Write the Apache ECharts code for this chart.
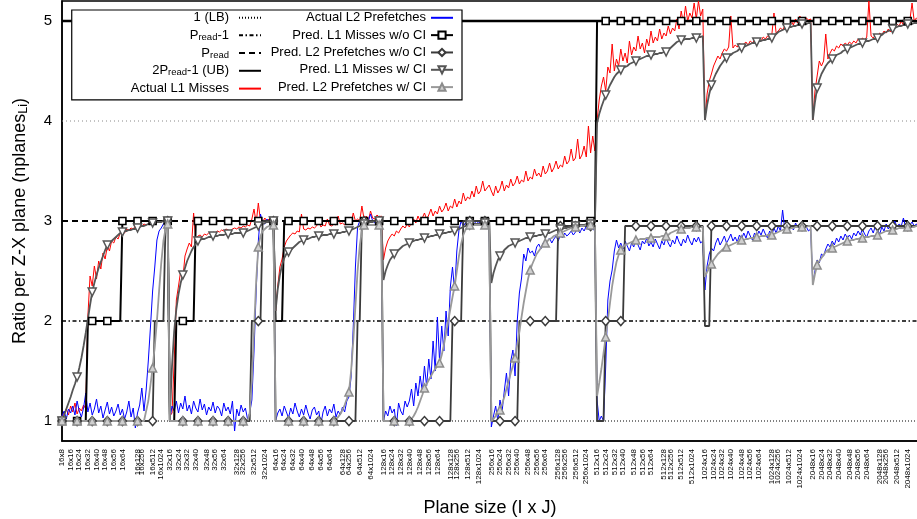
<!DOCTYPE html>
<html><head><meta charset="utf-8">
<script src="https://cdn.jsdelivr.net/npm/echarts@6.0.0/dist/echarts.min.js"></script>
<style>html,body{margin:0;padding:0;background:#fff}#chart{width:917px;height:519px}</style>
</head><body><div id="chart"></div><script>
// ---------------- DATA ----------------
const groupI = [16, 32, 64, 128, 256, 512, 1024, 2048];
const groupLen = [50, 49, 50, 50, 49, 50, 50, 52];           // samples per I-group
const firstGroupJ = [8, 16, 24, 32, 40, 48, 56, 64, 128, 256, 512, 1024];
const firstGroupTickAt = [0, 4, 8, 12, 16, 20, 24, 28, 35, 37, 42, 46];
const otherGroupJ = [16, 24, 32, 40, 48, 56, 64, 128, 256, 512, 1024];
const otherGroupTickAt = [0, 4, 8, 12, 17, 21, 25, 31, 34, 39, 44];
const yTicks = [1, 2, 3, 4, 5];
const refLB = [1], refPreadMinus1 = [2], refPread = [3], refUB = [5], gridY = [4];

// Actual L1 Misses (red)
const l1Act16 = [1.05,1.08,1.12,1.06,1.15,1.09,1.18,1.07,1.13,1.10,1.16,1.12,2.05,2.45,2.35,2.55,2.42,2.60,2.52,2.68,2.62,2.75,2.70,2.80,2.78,2.84,2.82,2.88,2.90,2.88,2.92,2.91,2.93,2.92,2.95,2.94,2.96,2.95,2.97,2.96,2.97,2.98,2.97,2.99,2.98,3.00,2.99,3.00,3.01,3.00];
const l1Act32 = [1.05,1.08,1.60,2.21,2.35,2.50,2.42,2.65,2.72,2.78,2.74,3.08,2.82,2.85,2.86,2.84,2.87,2.86,2.88,2.87,2.89,2.88,2.90,2.89,2.91,2.90,2.92,2.91,2.90,2.92,2.93,2.92,2.94,2.93,2.95,2.94,2.96,2.95,3.02,3.12,2.98,3.18,3.00,2.99,3.03,3.00,3.02,3.01,3.00];
const l1Act64 = [2.10,2.35,2.54,2.62,2.74,2.80,2.83,2.86,2.88,2.87,2.90,2.89,3.07,2.92,2.91,2.93,2.92,2.94,2.93,2.95,3.00,2.94,2.96,2.95,3.02,2.96,2.95,2.97,2.96,3.05,2.97,2.98,2.96,2.99,3.00,2.98,3.08,3.00,3.02,3.00,3.15,3.02,3.05,3.00,3.10,3.03,3.02,3.06,3.04,3.05];
const l1Act128 = [2.61,2.73,2.80,2.84,2.87,2.85,2.90,2.88,2.92,2.95,2.93,2.97,2.94,2.99,3.02,2.98,3.05,3.00,3.03,3.08,3.02,3.06,3.12,3.05,3.10,3.07,3.15,3.09,3.12,3.18,3.10,3.15,3.13,3.22,3.14,3.20,3.17,3.28,3.20,3.24,3.22,3.30,3.24,3.35,3.27,3.30,3.40,3.30,3.33,3.36];
const l1Act256 = [3.30,3.25,3.35,3.28,3.32,3.40,3.30,3.36,3.33,3.42,3.35,3.38,3.45,3.37,3.41,3.39,3.50,3.40,3.44,3.42,3.52,3.45,3.48,3.44,3.55,3.47,3.50,3.58,3.49,3.53,3.60,3.52,3.56,3.54,3.65,3.57,3.60,3.72,3.60,3.63,3.82,3.62,3.66,3.75,3.64,3.95,3.68,3.85,3.70];
const l1Act512 = [4.00,4.21,4.35,4.44,4.30,4.54,4.48,4.77,4.50,4.62,4.55,4.72,4.60,4.68,4.58,4.80,4.66,4.74,4.70,4.85,4.72,4.78,4.68,4.82,4.75,4.90,4.78,4.84,4.80,4.92,4.82,4.88,4.85,4.95,4.87,4.93,4.90,5.02,4.92,5.10,4.98,5.15,5.00,5.08,5.03,5.18,5.02,5.20,5.05,5.12];
const l1Act1024 = [4.01,4.27,4.40,4.47,4.55,4.60,4.65,4.62,4.68,4.72,4.70,4.74,5.05,4.73,4.76,4.74,4.78,4.75,4.77,4.79,4.76,4.80,4.78,4.81,4.79,4.82,4.80,4.84,4.82,4.85,4.83,4.86,5.08,4.88,4.90,4.93,4.91,4.95,4.93,4.97,5.00,4.96,5.02,4.98,5.05,5.00,4.99,5.03,5.01,5.02];
const l1Act2048 = [4.01,4.30,4.45,4.60,4.55,4.60,4.87,4.62,4.68,4.72,4.70,4.75,4.73,4.77,4.75,4.78,4.76,4.79,4.77,4.80,4.78,4.82,4.80,4.83,4.81,4.84,5.20,4.85,4.83,4.86,4.84,4.88,4.86,4.90,4.88,4.92,4.89,4.95,4.93,4.97,4.95,5.00,4.96,5.02,4.99,5.01,5.18,5.00,5.03,5.01,5.02,5.00];

// Actual L2 Prefetches (blue)
const l2Act16 = [1.05,1.10,1.02,1.12,1.08,1.15,1.06,1.20,1.10,1.04,1.13,1.28,1.09,1.18,1.06,1.12,1.22,1.08,1.15,1.03,1.11,1.19,1.07,1.14,1.05,1.10,1.17,1.06,1.12,1.02,1.09,1.20,1.04,1.13,0.93,1.08,1.16,1.33,1.10,1.31,1.60,1.94,2.30,2.54,2.81,2.90,2.93,2.97,3.00,2.99];
const l2Act32 = [1.02,1.15,1.10,1.20,1.08,1.18,1.12,1.25,1.10,1.16,1.07,1.20,1.13,1.09,1.22,1.11,1.17,1.06,1.14,1.10,1.19,1.08,1.15,1.12,1.05,1.18,1.10,1.14,1.07,1.20,0.90,1.12,1.05,1.16,1.09,1.13,1.02,1.08,1.21,1.70,2.30,2.80,3.07,2.98,2.97,3.02,2.99,3.01,3.00];
const l2Act64 = [1.00,1.08,1.12,1.05,1.15,1.09,1.03,1.13,1.07,1.18,1.10,1.04,1.12,1.06,1.16,1.08,1.02,1.11,1.14,1.06,1.10,0.97,1.09,1.15,1.05,1.12,1.08,1.17,1.04,1.10,1.06,1.14,1.09,1.20,1.24,1.44,1.94,2.54,2.94,3.00,2.98,2.99,3.02,3.00,3.07,3.00,2.98,3.01,3.03,3.00];
const l2Act128 = [1.00,1.10,1.05,1.15,1.08,1.12,0.95,1.18,1.10,1.06,1.20,1.14,1.20,1.32,1.15,1.38,1.25,1.45,1.30,1.55,1.35,1.62,1.42,1.80,1.50,2.04,1.60,1.95,1.70,2.10,1.85,2.34,2.54,2.30,2.70,2.91,3.00,2.95,2.98,3.00,2.96,2.99,2.97,3.00,2.98,2.99,3.00,2.97,2.99,3.00];
const l2Act256 = [0.94,1.05,1.15,1.00,1.21,1.10,1.30,1.48,1.25,1.60,1.71,1.45,2.00,2.28,2.43,2.67,2.60,2.73,2.68,2.70,2.65,2.74,2.77,2.72,2.78,2.75,2.80,2.83,2.78,2.82,2.85,2.80,2.86,2.83,2.88,2.85,2.87,2.90,2.86,2.89,2.92,2.88,2.93,2.90,2.95,2.91,2.94,2.92,2.90];
const l2Act512 = [1.21,1.00,1.05,1.00,1.54,2.21,2.40,2.51,2.70,2.81,2.73,2.78,2.72,2.80,2.75,2.70,2.78,2.74,2.82,2.76,2.71,2.80,2.77,2.83,2.75,2.79,2.74,2.82,2.77,2.72,2.80,2.76,2.84,2.78,2.74,2.81,2.77,2.85,2.79,2.75,2.82,2.78,2.86,2.80,2.76,2.83,2.79,2.84,2.78,2.80];
const l2Act1024 = [2.31,2.55,2.67,2.73,2.70,2.78,2.83,2.76,2.80,2.85,2.78,2.82,2.87,2.80,2.84,2.79,2.86,2.82,2.88,2.83,2.90,2.85,2.81,2.88,2.84,2.90,2.86,2.92,2.87,2.83,2.90,2.86,2.93,2.88,2.95,2.90,3.11,2.92,2.97,2.90,2.95,2.91,2.98,2.93,2.96,2.92,2.97,2.94,2.90,2.92];
const l2Act2048 = [2.37,2.50,2.61,2.58,2.67,2.65,2.72,2.77,2.74,2.80,2.76,2.83,2.79,2.85,2.81,2.87,2.83,2.86,2.82,2.88,2.85,2.90,2.86,2.92,2.87,2.84,2.90,2.93,2.88,2.95,2.91,2.87,2.94,2.90,2.97,2.92,2.96,2.93,3.00,2.94,2.97,2.95,3.03,2.94,2.98,2.96,2.99,2.95,2.97,2.94,2.96,2.95];

// Pred. L1 Misses w/o CI  (runs of [value, count])
const l1NoCI16 = [[1,12],[2,16],[3,22]];
const l1NoCI32 = [[1,3],[2,9],[3,37]];
const l1NoCI64 = [[2,4],[3,46]];
const l1NoCI128 = [[3,50]];
const l1NoCI256 = [[3,49]];
const l1NoCI512 = [[5,50]];
const l1NoCI1024 = [[5,50]];
const l1NoCI2048 = [[5,52]];

// Pred. L2 Prefetches w/o CI (runs of [value, count])
const l2NoCI16 = [[1,43],[2,5],[3,2]];
const l2NoCI32 = [[1,38],[2,5],[3,6]];
const l2NoCI64 = [[1,38],[2,2],[3,10]];
const l2NoCI128 = [[1,32],[2,5],[3,13]];
const l2NoCI256 = [[1,13],[2,18],[2.95,18]];
const l2NoCI512 = [[1,4],[2,9],[2.95,37]];
const l2NoCI1024 = [[1.95,3],[2.95,47]];
const l2NoCI2048 = [[2.95,52]];

// Pred. L1 Misses w/ CI
const l1CI16 = [1.00,1.06,1.12,1.18,1.24,1.31,1.37,1.44,1.53,1.63,1.75,1.88,2.02,2.16,2.29,2.38,2.46,2.53,2.59,2.65,2.71,2.76,2.78,2.80,2.82,2.84,2.86,2.88,2.89,2.90,2.90,2.91,2.91,2.92,2.92,2.93,2.94,2.95,2.95,2.96,2.97,2.97,2.98,2.98,2.99,2.99,2.99,3.00,3.00,3.00];
const l1CI32 = [1.07,1.55,1.90,2.12,2.27,2.38,2.46,2.53,2.60,2.65,2.70,2.74,2.77,2.80,2.81,2.82,2.82,2.83,2.84,2.84,2.85,2.85,2.85,2.86,2.86,2.86,2.87,2.87,2.87,2.87,2.88,2.88,2.88,2.88,2.88,2.89,2.90,2.91,2.92,2.93,2.94,2.95,2.96,2.97,2.98,2.99,2.99,3.00,3.00];
const l1CI64 = [2.10,2.32,2.46,2.56,2.63,2.67,2.69,2.71,2.73,2.75,2.77,2.79,2.80,2.81,2.82,2.82,2.83,2.84,2.84,2.85,2.85,2.85,2.86,2.86,2.86,2.87,2.87,2.87,2.88,2.88,2.88,2.89,2.89,2.90,2.90,2.91,2.92,2.93,2.94,2.95,2.96,2.97,2.98,2.98,2.99,2.99,3.00,3.00,3.00,3.00];
const l1CI128 = [2.41,2.50,2.56,2.61,2.64,2.67,2.69,2.71,2.73,2.75,2.76,2.77,2.78,2.79,2.80,2.81,2.81,2.82,2.82,2.83,2.84,2.84,2.85,2.85,2.86,2.86,2.87,2.87,2.88,2.88,2.89,2.89,2.90,2.90,2.91,2.92,2.93,2.94,2.95,2.95,2.96,2.96,2.97,2.97,2.97,2.98,2.98,2.98,2.99,2.99];
const l1CI256 = [2.38,2.48,2.55,2.61,2.65,2.68,2.71,2.73,2.75,2.76,2.77,2.78,2.79,2.80,2.81,2.82,2.83,2.83,2.84,2.84,2.85,2.85,2.86,2.86,2.87,2.87,2.88,2.88,2.89,2.90,2.91,2.91,2.92,2.92,2.93,2.93,2.94,2.94,2.95,2.95,2.95,2.96,2.96,2.96,2.97,2.97,2.97,2.98,2.98];
const l1CI512 = [3.98,4.07,4.14,4.20,4.26,4.31,4.36,4.40,4.44,4.47,4.49,4.51,4.53,4.54,4.55,4.57,4.58,4.59,4.60,4.61,4.62,4.63,4.64,4.65,4.65,4.66,4.66,4.67,4.67,4.68,4.68,4.69,4.69,4.71,4.73,4.75,4.77,4.79,4.80,4.81,4.81,4.82,4.82,4.82,4.83,4.83,4.83,4.84,4.84,4.85];
const l1CI1024 = [4.01,4.16,4.27,4.36,4.42,4.47,4.51,4.55,4.58,4.61,4.63,4.65,4.66,4.68,4.69,4.70,4.72,4.73,4.74,4.75,4.76,4.77,4.78,4.78,4.79,4.80,4.80,4.81,4.81,4.82,4.82,4.83,4.85,4.87,4.89,4.90,4.91,4.92,4.93,4.94,4.94,4.95,4.95,4.96,4.96,4.97,4.97,4.97,4.98,4.98];
const l1CI2048 = [4.01,4.19,4.33,4.41,4.47,4.51,4.55,4.58,4.60,4.62,4.64,4.66,4.67,4.68,4.70,4.71,4.72,4.73,4.74,4.75,4.76,4.77,4.77,4.78,4.79,4.80,4.80,4.81,4.82,4.82,4.83,4.85,4.86,4.88,4.89,4.90,4.91,4.92,4.93,4.94,4.95,4.95,4.96,4.96,4.97,4.97,4.97,4.98,4.98,4.98,4.99,4.99];

// Pred. L2 Prefetches w/ CI
const l2CI16 = [1,1,1,1,1,1,1,1,1,1,1,1,1,1,1,1,1,1,1,1,1,1,1,1,1,1,1,1,1,1,1,1,1,1,1,1,1,1,1,1.10,1.20,1.36,1.53,1.75,2.00,2.30,2.58,2.80,2.92,2.97];
const l2CI32 = [1,1,1,1,1,1,1,1,1,1,1,1,1,1,1,1,1,1,1,1,1,1,1,1,1,1,1,1,1,1,1,1,1,1,1,1,1,1.08,1.40,1.90,2.40,2.74,2.85,2.90,2.92,2.94,2.95,2.96,2.96];
const l2CI64 = [1,1,1,1,1,1,1,1,1,1,1,1,1,1,1,1,1,1,1,1,1,1,1,1,1,1,1,1,1.02,1.04,1.07,1.11,1.16,1.22,1.29,1.50,1.80,2.15,2.50,2.75,2.90,2.96,2.96,2.96,2.96,2.96,2.96,2.96,2.96,2.96];
const l2CI128 = [1,1,1,1,1,1,1,1,1,1,1,1,1,1.02,1.05,1.09,1.14,1.20,1.26,1.33,1.37,1.41,1.45,1.49,1.52,1.55,1.58,1.66,1.76,1.88,2.00,2.12,2.24,2.35,2.50,2.65,2.77,2.86,2.91,2.94,2.96,2.96,2.96,2.96,2.96,2.96,2.96,2.96,2.96,2.96];
const l2CI256 = [1.00,1.02,1.05,1.08,1.11,1.17,1.24,1.32,1.40,1.48,1.55,1.63,1.76,1.90,2.04,2.18,2.30,2.42,2.51,2.57,2.62,2.67,2.70,2.73,2.76,2.78,2.80,2.82,2.83,2.85,2.86,2.87,2.88,2.89,2.90,2.91,2.92,2.93,2.93,2.94,2.94,2.95,2.95,2.95,2.96,2.96,2.96,2.96,2.96];
const l2CI512 = [1.25,1.38,1.52,1.68,1.84,2.00,2.18,2.35,2.48,2.59,2.66,2.71,2.74,2.76,2.77,2.78,2.79,2.80,2.81,2.81,2.82,2.82,2.82,2.83,2.83,2.83,2.84,2.84,2.84,2.84,2.85,2.85,2.85,2.86,2.88,2.89,2.90,2.91,2.92,2.92,2.93,2.93,2.93,2.93,2.94,2.94,2.94,2.94,2.94,2.94];
const l2CI1024 = [2.44,2.49,2.53,2.57,2.61,2.64,2.67,2.69,2.71,2.73,2.74,2.75,2.76,2.77,2.78,2.79,2.80,2.81,2.81,2.82,2.82,2.83,2.83,2.84,2.84,2.84,2.85,2.85,2.85,2.86,2.86,2.86,2.87,2.88,2.89,2.90,2.91,2.92,2.92,2.93,2.93,2.93,2.94,2.94,2.94,2.94,2.94,2.94,2.95,2.95];
const l2CI2048 = [2.36,2.47,2.56,2.60,2.63,2.66,2.69,2.71,2.72,2.73,2.74,2.75,2.76,2.77,2.78,2.79,2.80,2.80,2.81,2.81,2.82,2.82,2.83,2.83,2.84,2.84,2.84,2.85,2.85,2.85,2.86,2.87,2.88,2.89,2.90,2.90,2.91,2.91,2.92,2.92,2.93,2.93,2.93,2.94,2.94,2.94,2.94,2.94,2.95,2.95,2.95,2.95];

// ---------------- BUILD ----------------
const FONT = '"Liberation Sans", Arial, Helvetica, sans-serif';
const groupStart = [];
let acc = 0;
groupLen.forEach(n => { groupStart.push(acc); acc += n; });
const xMax = 400;
const markerEvery = 7;

const tickIdx = [];
const tickLabelAt = {};
groupI.forEach((I, k) => {
  const js = k === 0 ? firstGroupJ : otherGroupJ;
  const at = k === 0 ? firstGroupTickAt : otherGroupTickAt;
  js.forEach((J, m) => { const x = groupStart[k] + at[m]; tickIdx.push(x); tickLabelAt[x] = I + 'x' + J; });
});

function runs(r) { const out = []; r.forEach(([v, c]) => { for (let i = 0; i < c; i++) out.push(v); }); return out; }
function pts(groups) {
  const out = [];
  groups.forEach((vals, k) => vals.forEach((v, t) => out.push([groupStart[k] + t, v])));
  return out;
}
function marked(p) { return p.map(q => (q[0] % markerEvery === 0) ? q : { value: q, symbol: 'none' }); }
function hline(v) { return [[0, v], [xMax, v]]; }

const l1Act = pts([l1Act16, l1Act32, l1Act64, l1Act128, l1Act256, l1Act512, l1Act1024, l1Act2048]);
const l2Act = pts([l2Act16, l2Act32, l2Act64, l2Act128, l2Act256, l2Act512, l2Act1024, l2Act2048]);
const l1NoCI = pts([l1NoCI16, l1NoCI32, l1NoCI64, l1NoCI128, l1NoCI256, l1NoCI512, l1NoCI1024, l1NoCI2048].map(runs));
const l2NoCI = pts([l2NoCI16, l2NoCI32, l2NoCI64, l2NoCI128, l2NoCI256, l2NoCI512, l2NoCI1024, l2NoCI2048].map(runs));
const l1CI = pts([l1CI16, l1CI32, l1CI64, l1CI128, l1CI256, l1CI512, l1CI1024, l1CI2048]);
const l2CI = pts([l2CI16, l2CI32, l2CI64, l2CI128, l2CI256, l2CI512, l2CI1024, l2CI2048]);

const legendText = {
  '1 (LB)': '{n|1 (LB)}',
  'Pread-1': '{n|P}{s|read}{n|-1}',
  'Pread': '{n|P}{s|read}',
  '2Pread-1 (UB)': '{n|2P}{s|read}{n|-1 (UB)}',
};
const legendRich = {
  n: { fontSize: 13, lineHeight: 14, color: '#000', fontFamily: FONT },
  s: { fontSize: 9.5, lineHeight: 6, verticalAlign: 'bottom', color: '#000', fontFamily: FONT }
};
const noItem = { color: 'rgba(0,0,0,0)', borderColor: 'rgba(0,0,0,0)' };

function lineSeries(name, data, lineStyle, extra) {
  return Object.assign({
    name, type: 'line', data, silent: true, animation: false,
    symbol: 'none', showSymbol: true, showAllSymbol: true,
    lineStyle, itemStyle: noItem, emphasis: { disabled: true }, clip: true
  }, extra || {});
}

const option = {
  animation: false,
  backgroundColor: '#fff',
  textStyle: { fontFamily: FONT },
  grid: { left: 62, right: -8, top: 1, bottom: 78, show: true, borderColor: '#000', borderWidth: 1.5,
          containLabel: false, outerBoundsMode: 'none' },
  xAxis: {
    type: 'value', min: 0, max: xMax,
    name: 'Plane size (I x J)', nameLocation: 'middle', nameGap: 58,
    nameTextStyle: { fontSize: 18, color: '#000', fontFamily: FONT, padding: [0, 7, 0, 0] },
    axisLine: { show: true, onZero: false, lineStyle: { color: '#000', width: 1.5 } },
    axisTick: { show: false, customValues: tickIdx },
    axisLabel: { customValues: tickIdx, formatter: v => tickLabelAt[v] || '', rotate: 90, fontSize: 8, color: '#000', margin: 8, fontFamily: FONT },
    splitLine: { show: false }
  },
  yAxis: {
    type: 'value', min: 0.8, max: 5.2,
    name: '{n|Ratio per Z-X plane (nplanes}{s|Li}{n|)}', nameLocation: 'middle', nameGap: 32, nameRotate: 90,
    nameTextStyle: { color: '#000', rich: {
      n: { fontSize: 18, lineHeight: 19, color: '#000', fontFamily: FONT },
      s: { fontSize: 12.5, lineHeight: 7, verticalAlign: 'bottom', color: '#000', fontFamily: FONT } } },
    axisLine: { show: true, onZero: false, lineStyle: { color: '#000', width: 1.5 } },
    axisTick: { show: false, customValues: yTicks },
    axisLabel: { customValues: yTicks, fontSize: 15, color: '#000', margin: 10, fontFamily: FONT },
    splitLine: { show: false }
  },
  legend: [
    {
      data: ['1 (LB)', 'Pread-1', 'Pread', '2Pread-1 (UB)', 'Actual L1 Misses'],
      orient: 'vertical', align: 'right', right: 455, top: 10,
      padding: [1.3, 200, 4.7, 59], itemGap: 4.33, itemWidth: 22, itemHeight: 9,
      backgroundColor: '#fff', borderColor: '#000', borderWidth: 1.2, z: 4,
      selectedMode: false,
      textStyle: { fontSize: 13, color: '#000', padding: [0, 5, 0, 0], rich: legendRich },
      formatter: name => legendText[name] || ('{n|' + name + '}')
    },
    {
      data: ['Actual L2 Prefetches', 'Pred. L1 Misses w/o CI', 'Pred. L2 Prefetches w/o CI', 'Pred. L1 Misses w/ CI', 'Pred. L2 Prefetches w/ CI'],
      orient: 'vertical', align: 'right', right: 463, top: 11.3,
      padding: 0, itemGap: 4.33, itemWidth: 22, itemHeight: 9, z: 6,
      selectedMode: false,
      textStyle: { fontSize: 13, color: '#000', rich: legendRich },
      formatter: name => '{n|' + name + '}'
    }
  ],
  series: [
    lineSeries('grid4', hline(gridY[0]), { color: '#888', width: 1, type: [1, 3] }),
    lineSeries('1 (LB)', hline(refLB[0]), { color: '#000', width: 1, type: [1, 2] }),
    lineSeries('Pread-1', hline(refPreadMinus1[0]), { color: '#000', width: 1.5, type: [4, 2.5, 1.5, 2.5] }),
    lineSeries('Pread', hline(refPread[0]), { color: '#000', width: 2, type: [6, 4] }),
    lineSeries('2Pread-1 (UB)', hline(refUB[0]), { color: '#000', width: 2.5, type: 'solid' }),
    lineSeries('Actual L1 Misses', l1Act, { color: '#ff0000', width: 1 }),
    lineSeries('Actual L2 Prefetches', l2Act, { color: '#0000ff', width: 1 }),
    lineSeries('Pred. L1 Misses w/o CI', marked(l1NoCI), { color: '#000', width: 2 },
      { symbol: 'rect', symbolSize: 7, itemStyle: { color: '#fff', borderColor: '#000', borderWidth: 1.6 } }),
    lineSeries('Pred. L2 Prefetches w/o CI', marked(l2NoCI), { color: '#3a3a3a', width: 1.8 },
      { symbol: 'diamond', symbolSize: [8, 9], itemStyle: { color: '#fff', borderColor: '#3a3a3a', borderWidth: 1.5 } }),
    lineSeries('Pred. L1 Misses w/ CI', marked(l1CI), { color: '#555', width: 1.8 },
      { symbol: 'triangle', symbolRotate: 180, symbolSize: 8, itemStyle: { color: '#fff', borderColor: '#555', borderWidth: 1.5 } }),
    lineSeries('Pred. L2 Prefetches w/ CI', marked(l2CI), { color: '#999', width: 1.8 },
      { symbol: 'triangle', symbolSize: 8, itemStyle: { color: '#cfcfcf', borderColor: '#8c8c8c', borderWidth: 1.5 } })
  ]
};

const chart = echarts.init(document.getElementById('chart'), null, { renderer: 'canvas' });
chart.setOption(option);
</script></body></html>
